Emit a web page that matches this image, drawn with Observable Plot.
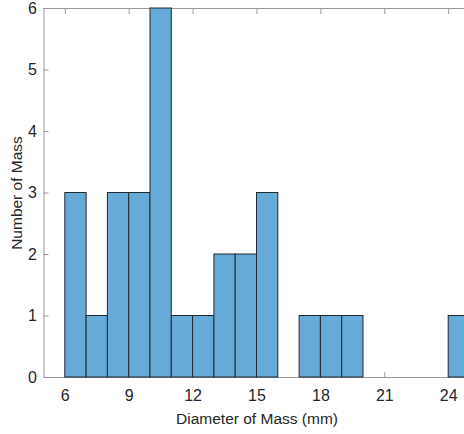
<!DOCTYPE html>
<html>
<head>
<meta charset="utf-8">
<script src="https://cdn.jsdelivr.net/npm/d3@7"></script>
<script src="https://cdn.jsdelivr.net/npm/@observablehq/plot@0.6"></script>
<style>
  html, body { margin: 0; padding: 0; background: #fff; overflow: hidden; }
  #chart svg { display: block; }
</style>
</head>
<body>
<div id="chart"></div>
<script>
// Histogram of mass diameters, 1 mm bins from 6 to 25 mm
const binStarts = [6, 7, 8, 9, 10, 11, 12, 13, 14, 15, 16, 17, 18, 19, 20, 21, 22, 23, 24];
const counts    = [3, 1, 3, 3, 6, 1, 1, 2, 2, 3, 0, 1, 1, 1, 0, 0, 0, 0, 1];
const binWidth = 1;

const xTicks = [6, 9, 12, 15, 18, 21, 24];
const yTicks = [0, 1, 2, 3, 4, 5, 6];
const xDomain = [5, 25];
const yDomain = [0, 6];

const xLabel = "Diameter of Mass (mm)";
const yLabel = "Number of Mass";

const bins = binStarts
  .map((start, i) => ({x1: start, x2: start + binWidth, count: counts[i]}))
  .filter(d => d.count > 0);

const axisColor = "#9a9a9a";
const textColor = "#262626";

const chart = Plot.plot({
  width: 464,
  height: 434,
  marginLeft: 43.5,
  marginRight: -5.5,
  marginTop: 8,
  marginBottom: 57,
  style: {fontFamily: "'Liberation Sans', Arial, sans-serif", fontSize: "16px", color: textColor, background: "#fff"},
  x: {domain: xDomain},
  y: {domain: yDomain},
  marks: [
    // box lines
    Plot.ruleY([yDomain[0]], {stroke: axisColor}),
    Plot.ruleY([yDomain[1]], {stroke: axisColor}),
    Plot.ruleX([xDomain[0]], {stroke: axisColor}),
    // inward ticks
    Plot.axisX(xTicks, {anchor: "bottom", tickSize: -5, tickPadding: 17.5, tickFormat: "d", stroke: axisColor, fill: textColor, label: null}),
    Plot.axisX(xTicks, {anchor: "top", tickSize: -5, tickFormat: () => "", stroke: axisColor, label: null}),
    Plot.axisY(yTicks, {anchor: "left", tickSize: -5, tickPadding: 12, tickFormat: "d", stroke: axisColor, fill: textColor, label: null}),
    // bars
    Plot.rectY(bins, {x1: "x1", x2: "x2", y: "count", fill: "#66aad7", stroke: "#1f2a35", strokeWidth: 1}),
    // axis titles
    Plot.text([xLabel], {frameAnchor: "bottom", dy: 42, lineAnchor: "middle", textAnchor: "middle", fill: textColor, fontSize: 15.5}),
    Plot.text([yLabel], {frameAnchor: "left", dx: -27, rotate: -90, lineAnchor: "middle", textAnchor: "middle", fill: textColor, fontSize: 15.5})
  ]
});

document.getElementById("chart").append(chart);
</script>
</body>
</html>
